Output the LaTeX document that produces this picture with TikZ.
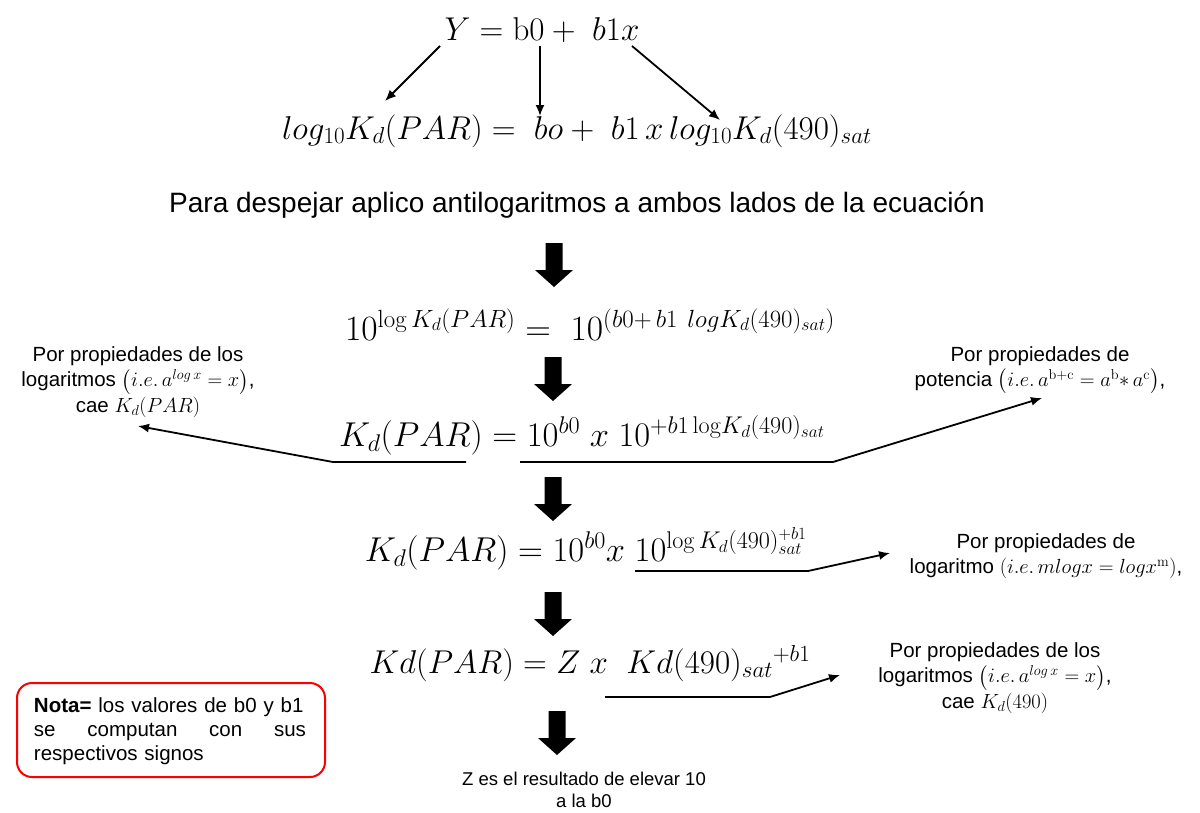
\RequirePackage{fix-cm}
\documentclass[tikz,border=0pt]{standalone}
\usepackage{amsmath}
\usepackage[no-math]{fontspec}
\setmainfont{Liberation Sans}
\usetikzlibrary{arrows.meta}
\newcommand{\blockdown}[2]{%
  \fill (#1-8.5,#2) -- (#1+8.5,#2) -- (#1+8.5,#2+27) -- (#1+19,#2+27) -- (#1,#2+44) -- (#1-19,#2+27) -- (#1-8.5,#2+27) -- cycle;}
\begin{document}
\begin{tikzpicture}[x=1pt,y=-1pt,
  eq/.style={inner sep=0pt, anchor=base, font=\fontsize{33}{36}\selectfont},
  note/.style={inner sep=0pt, align=center, font=\fontsize{20.5}{25.5}\selectfont},
  conn/.style={line width=1.8pt, -{Latex[length=11pt,width=9pt]}},
  uline/.style={line width=1.8pt}]
\useasboundingbox (0,0) rectangle (1200,812);

% equations
\node[eq] (e1) at (542,40) {$Y = \mathrm{b0} +\ b1x$};
\node[eq] (e2) at (577,139) {$log_{10}K_d(PAR) =\ bo +\ b1\,x\,log_{10}K_d(490)_{sat}$};
\node[inner sep=0pt, font=\fontsize{28}{30}\selectfont] (para) at (577,205) {Para despejar aplico antilogaritmos a ambos lados de la ecuación};
\node[eq, font=\fontsize{35.5}{38}\selectfont] (e3) at (590,340) {$10^{\log K_d(PAR)} =\ 10^{(b0+\,b1\ logK_d(490)_{sat})}$};
\node[eq, font=\fontsize{34.5}{38}\selectfont] (e4) at (582,446) {$K_d(PAR) = 10^{b0}\ x\ 10^{+b1\,\mathrm{log}K_d(490)_{sat}}$};
\node[eq, font=\fontsize{34.5}{38}\selectfont] (e5) at (586,561) {$K_d(PAR) = 10^{b0}x\ 10^{\log K_d(490)^{+b1}_{sat}}$};
\node[eq] (e6) at (590,673) {$Kd(PAR) = Z\ x\ \ Kd(490)_{sat}{}^{+b1}$};

% top arrows
\coordinate (s1) at (440,46); \coordinate (d1) at (385,101);
\coordinate (s2) at (540,46); \coordinate (d2) at (540,116);
\coordinate (s3) at (632,46); \coordinate (d3) at (720,120);
\draw[conn] (s1) -- (d1);
\draw[conn] (s2) -- (d2);
\draw[conn] (s3) -- (d3);

% block arrows
\blockdown{554}{243}
\blockdown{553}{357}
\blockdown{553}{477}
\blockdown{553}{592}
\blockdown{557}{711}

% notes
\node[note] (n1) at (138,382) {Por propiedades de los\\ logaritmos $\bigl(i.e.\,a^{log\,x} = x\bigr)$,\\ cae $K_d(PAR)$};
\node[note] (n2) at (1040,370) {Por propiedades de\\ potencia $\bigl(i.e.\,a^{\mathrm{b+c}} = a^{\mathrm{b}}{*}\,a^{\mathrm{c}}\bigr)$,};
\node[note] (n3) at (1046,556) {Por propiedades de\\ logaritmo $(i.e.\,mlogx = logx^{\mathrm{m}})$,};
\node[note] (n4) at (995,678) {Por propiedades de los\\ logaritmos $\bigl(i.e.\,a^{log\,x} = x\bigr)$,\\ cae $K_d(490)$};

% underline connectors
\coordinate (u4a) at (333,462); \coordinate (u4b) at (466,462);
\coordinate (u4c) at (520,462); \coordinate (u4d) at (833,462);
\coordinate (t1) at (138,426); \coordinate (t2) at (1042,398);
\draw[conn] (u4b) -- (u4a) -- (t1);
\draw[conn] (u4c) -- (u4d) -- (t2);
\coordinate (u5a) at (635,571); \coordinate (u5b) at (808,571); \coordinate (t3) at (890,553);
\draw[conn] (u5a) -- (u5b) -- (t3);
\coordinate (u6a) at (605,697); \coordinate (u6b) at (770,697); \coordinate (t4) at (840,675);
\draw[conn] (u6a) -- (u6b) -- (t4);

% nota box
\node[draw=red, line width=2pt, rounded corners=15pt, minimum width=308pt, minimum height=94pt, inner sep=0pt] (nota) at (171,730) {};
\node[inner sep=0pt, align=left, text width=274pt, font=\fontsize{20.5}{24}\selectfont] (notatxt) at (171,731) {\textbf{Nota=} los valores de b0 y b1\\ \makebox[272pt][s]{se\hfill computan\hfill con\hfill sus}\\ respectivos signos};

% bottom text
\node[inner sep=0pt, align=center, font=\fontsize{18.5}{22}\selectfont] (zt) at (584,790) {Z es el resultado de elevar 10\\ a la b0};
\end{tikzpicture}
\end{document}
